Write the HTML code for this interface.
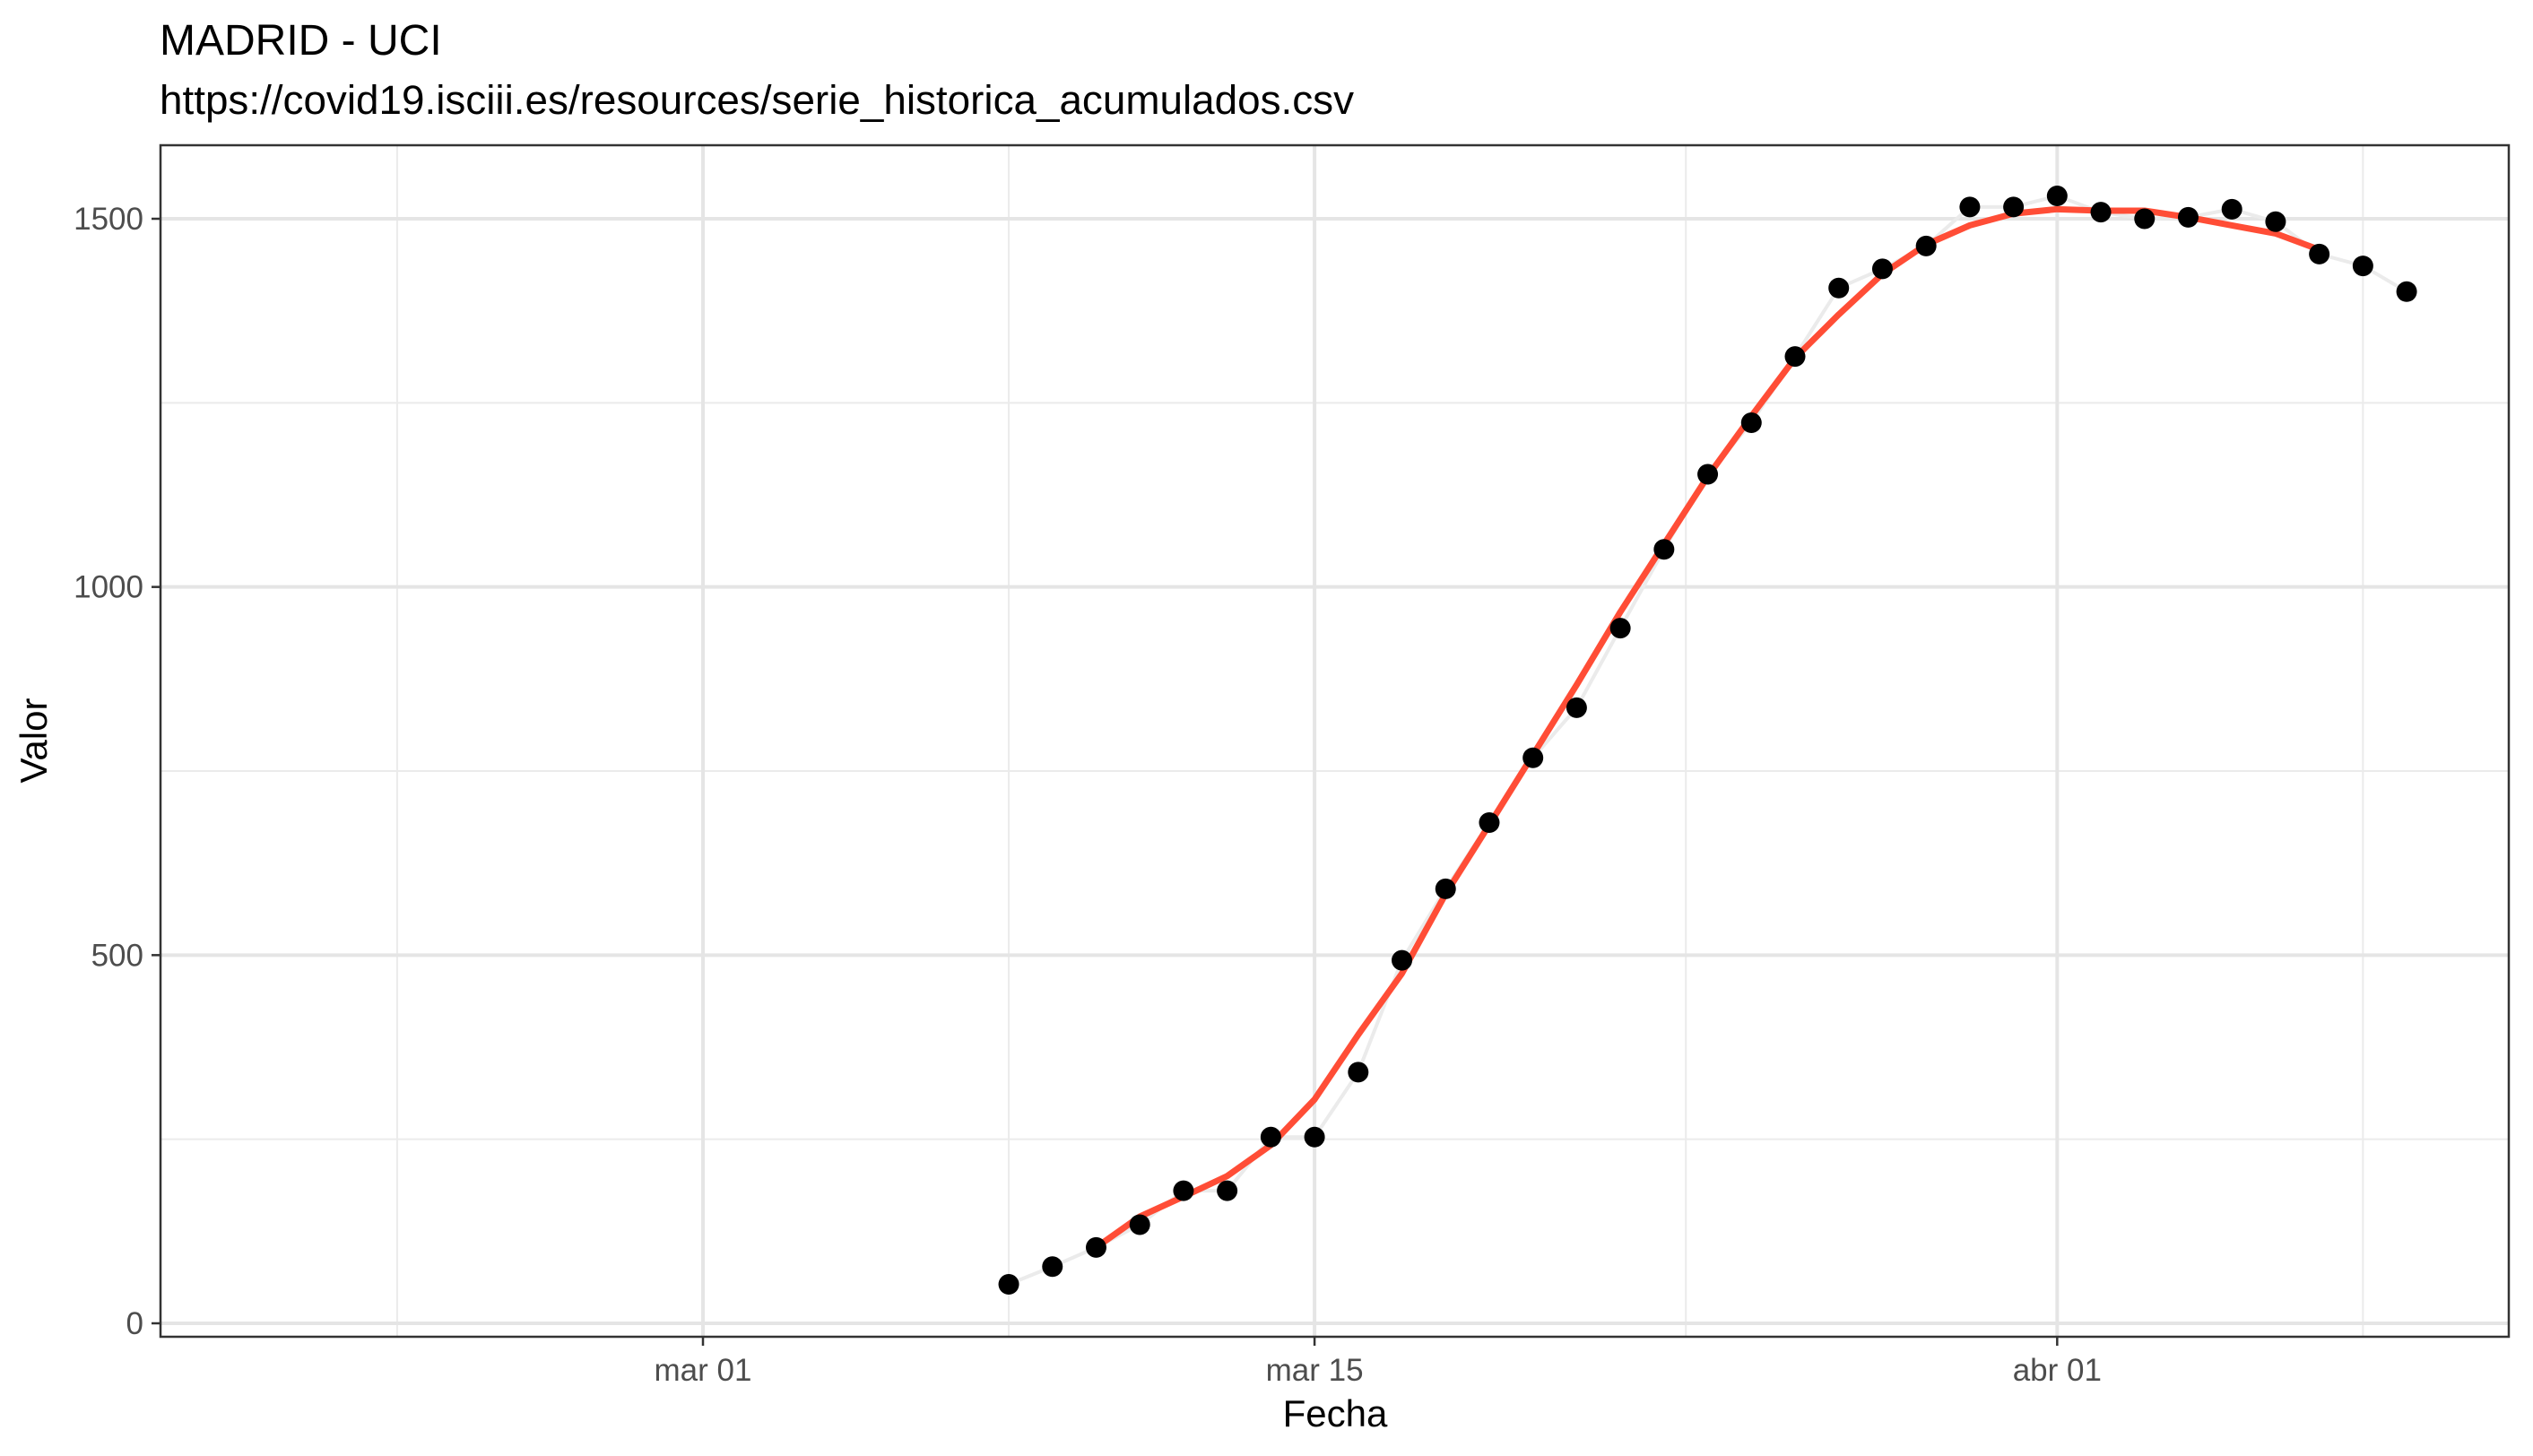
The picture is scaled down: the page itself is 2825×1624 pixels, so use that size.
<!DOCTYPE html>
<html><head><meta charset="utf-8"><style>
html,body{margin:0;padding:0;background:#fff;}
svg{display:block;font-family:"Liberation Sans",Arial,sans-serif;}
</style></head><body>
<svg id="chart" width="2825" height="1624" viewBox="0 0 2825 1624">
<rect width="2825" height="1624" fill="#fff"/>
<text x="178" y="61" font-size="48" fill="#000">MADRID - UCI</text>
<text x="178" y="127" font-size="45" textLength="1332" lengthAdjust="spacingAndGlyphs" fill="#000">https://covid19.isciii.es/resources/serie_historica_acumulados.csv</text>
<g id="grid"></g>
<g id="marks"></g>
<rect x="179" y="162" width="2619" height="1329" fill="none" stroke="#333" stroke-width="2.5"/>
<g id="axes"></g>
<text x="1489" y="1591" font-size="42" text-anchor="middle" fill="#000">Fecha</text>
<text x="0" y="0" font-size="42" text-anchor="middle" fill="#000" transform="translate(52,826) rotate(-90)">Valor</text>
</svg>
<script>
// day offsets relative to mar 01
const days = [7,8,9,10,11,12,13,14,15,16,17,18,19,20,21,22,23,24,25,26,27,28,29,30,31,32,33,34,35,36,37,38,39];
const values = [53,77,103,134,180,180,253,253,341,493,590,680,768,836,944,1051,1153,1223,1313,1406,1432,1463,1516,1516,1531,1509,1500,1502,1513,1496,1452,1436,1401];
const smoothDays = [9,10,11,12,13,14,15,16,17,18,19,20,21,22,23,24,25,26,27,28,29,30,31,32,33,34,35,36,37];
const smoothValues = [103,145,172,200,242,304,392,475,583,677,772,867,966,1058,1150,1232,1311,1370,1425,1465,1491,1507,1513,1511,1511,1502,1491,1480,1458];
const yTicks = [0,500,1000,1500];
const yMinor = [250,750,1250];
const xTickDays = [0,14,31];
const xTickLabels = ["mar 01","mar 15","abr 01"];
const xMinorDays = [-7,7,22.5,38];

const NS="http://www.w3.org/2000/svg";
const X = d => 784 + d*48.72;
const Y = v => 1476 - v*(1232/1500);
function mk(tag, attrs, parent){const e=document.createElementNS(NS,tag);for(const k in attrs)e.setAttribute(k,attrs[k]);parent.appendChild(e);return e;}
const grid=document.getElementById('grid'), marks=document.getElementById('marks'), axes=document.getElementById('axes');

yMinor.forEach(v=>{const l=mk('line',{x1:179,x2:2798,y1:Y(v),y2:Y(v),stroke:'#ebebeb','stroke-width':2},grid);

});
xMinorDays.forEach(d=>{const l=mk('line',{x1:X(d),x2:X(d),y1:162,y2:1491,stroke:'#ebebeb','stroke-width':2},grid);

});
yTicks.forEach(v=>{const l=mk('line',{x1:179,x2:2798,y1:Y(v),y2:Y(v),stroke:'#e5e5e5','stroke-width':4},grid);


const t=mk('line',{x1:169,x2:179,y1:Y(v),y2:Y(v),stroke:'#333','stroke-width':2.5},axes);


const tx=mk('text',{x:160,y:Y(v)+12,'font-size':35,'text-anchor':'end',fill:'#4d4d4d'},axes);tx.textContent=v;

});
xTickDays.forEach((d,i)=>{const l=mk('line',{x1:X(d),x2:X(d),y1:162,y2:1491,stroke:'#e5e5e5','stroke-width':4},grid);


const t=mk('line',{x1:X(d),x2:X(d),y1:1491,y2:1501,stroke:'#333','stroke-width':2.5},axes);


const tx=mk('text',{x:X(d),y:1540,'font-size':35,'text-anchor':'middle',fill:'#4d4d4d'},axes);tx.textContent=xTickLabels[i];

});

const gl=mk('polyline',{points:days.map((d,i)=>X(d)+','+Y(values[i])).join(' '),fill:'none',stroke:'#ebebeb','stroke-width':4},marks);


const rl=mk('polyline',{points:smoothDays.map((d,i)=>X(d)+','+Y(smoothValues[i])).join(' '),fill:'none',stroke:'#ff4d36','stroke-width':7,'stroke-linejoin':'round'},marks);


days.forEach((d,i)=>{const c=mk('circle',{cx:X(d),cy:Y(values[i]),r:11.5,fill:'#000'},marks);

});
</script>
</body></html>
